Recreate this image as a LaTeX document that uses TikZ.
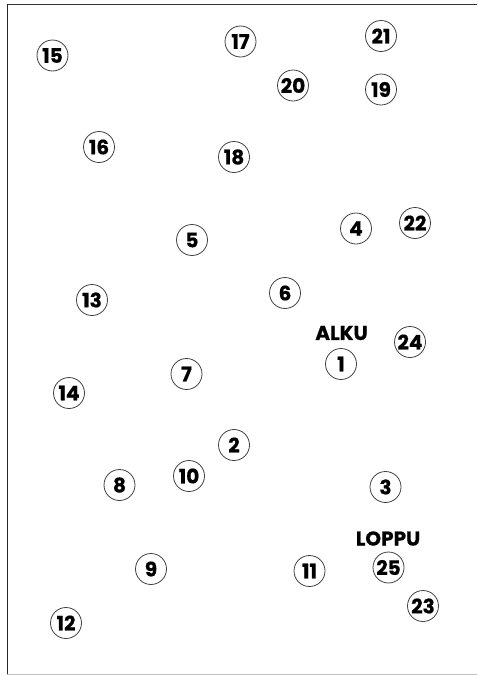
\documentclass[tikz,border=0pt]{standalone}
\usepackage{fontspec}
\setmainfont{Poppins}[UprightFont=* Bold,FakeBold=0.6]
\begin{document}
\begin{tikzpicture}[x=1pt,y=-1pt,
  num/.style={circle,draw=black!75,line width=0.8pt,minimum size=31pt,inner sep=0pt,font=\fontsize{20}{20}\selectfont},
  lbl/.style={inner sep=0pt,font=\fontsize{20}{20}\selectfont}]
\useasboundingbox (0,0) rectangle (477,675);
\draw[line width=1.6pt,black!80] (6.7,4.5) -- (477,4.5);
\draw[line width=1.4pt,black!85] (7.4,4) -- (7.4,675);
\draw[line width=1pt,black!25] (7.4,674.3) -- (477,674.3);
\node[num] (n15) at (52.5,55.5) {15};
\node[num] (n17) at (240.5,41.5) {17};
\node[num] (n21) at (381,36) {21};
\node[num] (n20) at (293,85.5) {20};
\node[num] (n19) at (381,89.5) {19};
\node[num] (n16) at (99,147) {16};
\node[num] (n18) at (234,157) {18};
\node[num] (n5) at (192,240) {5};
\node[num] (n4) at (356,228.5) {4};
\node[num] (n22) at (415,223) {22};
\node[num] (n6) at (285,293) {6};
\node[num] (n13) at (92,300) {13};
\node[lbl] (alku) at (341.5,333) {ALKU};
\node[num] (n1) at (341,364) {1};
\node[num] (n24) at (410,342) {24};
\node[num] (n7) at (186.5,374) {7};
\node[num] (n14) at (69,393) {14};
\node[num] (n2) at (234,445) {2};
\node[num] (n10) at (189,476) {10};
\node[num] (n8) at (119.5,485) {8};
\node[num] (n3) at (385.5,487) {3};
\node[lbl] (loppu) at (388,538.5) {LOPPU};
\node[num] (n9) at (151,569) {9};
\node[num] (n11) at (309.5,571) {11};
\node[num] (n25) at (388.5,567.5) {25};
\node[num] (n23) at (423,606) {23};
\node[num] (n12) at (66,623) {12};
\end{tikzpicture}
\end{document}
